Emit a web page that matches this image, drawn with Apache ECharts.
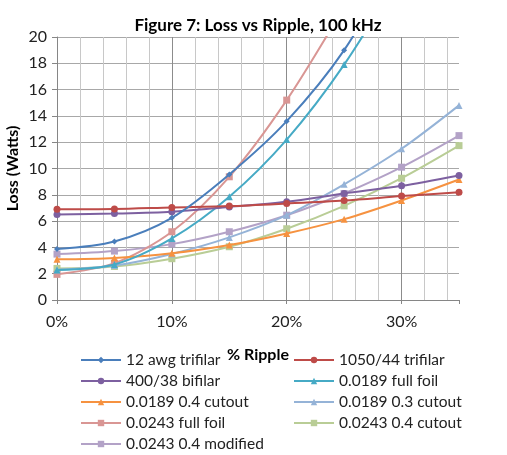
<!DOCTYPE html>
<html>
<head>
<meta charset="utf-8">
<script src="https://cdn.jsdelivr.net/npm/echarts@6/dist/echarts.min.js"></script>
<style>html,body{margin:0;padding:0;background:#fff}#c{width:507px;height:455px}</style>
</head>
<body>
<div id="c"></div>
<script>
const ripple = [0, 5, 10, 15, 20, 25, 30, 35];
const seriesNames = ["12 awg trifilar", "1050/44 trifilar", "400/38 bifilar", "0.0189 full foil",
  "0.0189 0.4 cutout", "0.0189 0.3 cutout", "0.0243 full foil", "0.0243 0.4 cutout", "0.0243 0.4 modified"];
const awg12Trifilar   = [3.87, 4.45, 6.25, 9.55, 13.6, 19.0, 26.5, 35];
const litz1050        = [6.9, 6.92, 7.04, 7.14, 7.34, 7.57, 7.9, 8.2];
const bifilar400      = [6.5, 6.57, 6.71, 7.08, 7.47, 8.1, 8.68, 9.47];
const foil0189Full    = [2.28, 2.7, 4.68, 7.85, 12.2, 17.9, 25, 33];
const foil0189Cut04   = [3.09, 3.2, 3.55, 4.18, 5.06, 6.15, 7.57, 9.16];
const foil0189Cut03   = [2.3, 2.62, 3.5, 4.76, 6.45, 8.8, 11.5, 14.8];
const foil0243Full    = [1.95, 2.8, 5.19, 9.37, 15.2, 22.3, 30, 40];
const foil0243Cut04   = [2.4, 2.55, 3.14, 4.05, 5.42, 7.16, 9.26, 11.74];
const foil0243Mod04   = [3.49, 3.72, 4.25, 5.19, 6.45, 8.1, 10.1, 12.5];
const yTicks = [0, 2, 4, 6, 8, 10, 12, 14, 16, 18, 20];

const values = [awg12Trifilar, litz1050, bifilar400, foil0189Full, foil0189Cut04, foil0189Cut03, foil0243Full, foil0243Cut04, foil0243Mod04];
const colors = ['#4A7EBB', '#BE4B48', '#7D60A0', '#46AAC5', '#F69240', '#95B3D7', '#D99694', '#B9CD96', '#B3A2C7'];
const symbols = ['diamond', 'circle', 'circle', 'triangle', 'triangle', 'triangle', 'rect', 'rect', 'rect'];
const sizes = [6, 7, 7, 7, 7, 7, 7, 7, 7];

const FONT = 'Lato';
const series = values.map((v, i) => ({
  name: seriesNames[i],
  type: 'line',
  smooth: 0.3,
  data: ripple.map((r, j) => [r, v[j]]),
  symbol: symbols[i],
  symbolSize: sizes[i],
  showSymbol: true,
  clip: true,
  lineStyle: { color: colors[i], width: 2 },
  itemStyle: { color: colors[i] },
  z: 10 - i
}));

// minor/major vertical grid colours: ticks at 0,2,...,34,35
const vColors = [];
for (let t = 0; t <= 34; t += 2) vColors.push(t % 10 === 0 ? '#8c8c8c' : '#c8c8c8');
vColors.push('rgba(0,0,0,0)');

const legendText = { fontFamily: FONT, fontSize: 15.5, color: '#222', lineHeight: 16 };

const chart = echarts.init(document.getElementById('c'));
chart.setOption({
  animation: false,
  title: {
    text: 'Figure 7: Loss vs Ripple, 100 kHz',
    left: 253, top: 12, textAlign: 'center',
    textStyle: { fontFamily: FONT, fontSize: 17, fontWeight: 'bold', color: '#000' }
  },
  grid: { left: 57, right: 48, top: 37, bottom: 155, outerBoundsMode: 'none', containLabel: false },
  xAxis: [{
    type: 'value', min: 0, max: 35, interval: 2,
    name: '% Ripple', nameLocation: 'middle', nameGap: 47, nameMoveOverlap: false,
    nameTextStyle: { fontFamily: FONT, fontSize: 16, fontWeight: 'bold', color: '#000' },
    axisLine: { show: true, lineStyle: { color: '#868686', width: 1 } },
    axisTick: { show: false },
    axisLabel: { fontFamily: FONT, fontSize: 16, color: '#222', margin: 14,
      showMaxLabel: false,
      formatter: v => (v % 10 === 0 ? v + '%' : '') },
    splitLine: { show: true, lineStyle: { color: vColors, width: 1 } }
  }, {
    type: 'value', min: 0, max: 35, interval: 10, position: 'bottom',
    axisLine: { show: false },
    axisTick: { show: true, length: 4, lineStyle: { color: '#868686' } },
    axisLabel: { show: false },
    splitLine: { show: false }
  }],
  yAxis: {
    type: 'value', min: yTicks[0], max: yTicks[yTicks.length - 1], interval: 2,
    name: 'Loss (Watts)', nameLocation: 'middle', nameGap: 36, nameRotate: 90, nameMoveOverlap: false,
    nameTextStyle: { fontFamily: FONT, fontSize: 16, fontWeight: 'bold', color: '#000' },
    axisLine: { show: true, lineStyle: { color: '#868686' } },
    axisTick: { show: true, length: 5, lineStyle: { color: '#868686' } },
    axisLabel: { fontFamily: FONT, fontSize: 16, color: '#222', margin: 10 },
    splitLine: { show: true, lineStyle: { color: '#a8a8a8', width: 1 } }
  },
  legend: [{
    orient: 'vertical', left: 80, top: 352, padding: 0,
    data: [0, 2, 4, 6, 8].map(i => seriesNames[i]),
    itemWidth: 40, itemHeight: 8, itemGap: 5,
    textStyle: legendText
  }, {
    orient: 'vertical', left: 293, top: 352, padding: 0,
    data: [1, 3, 5, 7].map(i => seriesNames[i]),
    itemWidth: 40, itemHeight: 8, itemGap: 5,
    textStyle: legendText
  }],
  series: series
});
</script>
</body>
</html>
